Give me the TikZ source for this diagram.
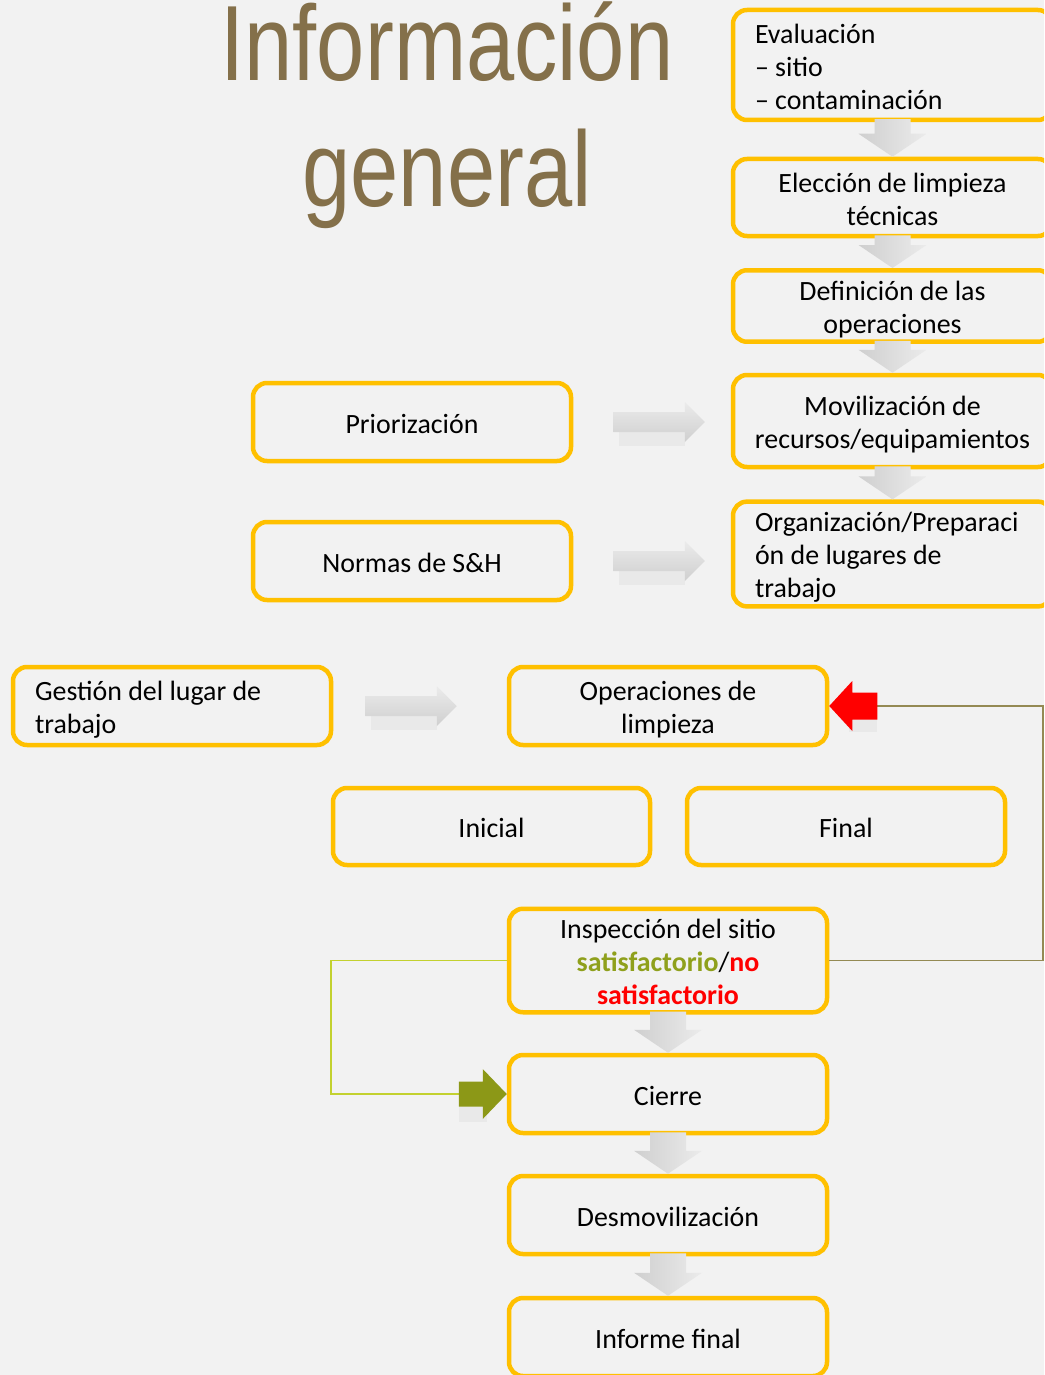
\documentclass[tikz,border=0pt]{standalone}
\usepackage{fontspec}
\setmainfont{Carlito}
\newfontfamily\titlefont{Liberation Sans}[FakeStretch=0.81]
\usetikzlibrary{calc}
\definecolor{bg}{HTML}{F2F2F2}
\definecolor{boxline}{HTML}{FFC000}
\definecolor{titlec}{RGB}{132,112,74}
\definecolor{olivetxt}{HTML}{8FA01C}
\definecolor{greenline}{HTML}{C3D12F}
\definecolor{greenarrow}{HTML}{8C9817}
\definecolor{brownline}{RGB}{148,138,84}
\definecolor{arrowdark}{HTML}{CFCFCF}
\definecolor{arrowlight}{HTML}{EBEBEB}
\tikzset{
  box/.style={draw=boxline, line width=4.5pt, rounded corners=14pt, inner sep=4pt,
    align=center, font=\fontsize{27.9}{33}\selectfont,
    execute at begin node={\rule{0pt}{26pt}},
    execute at end node={\rule[-3.5pt]{0pt}{3.5pt}}},
  multibox/.style={box, text width=#1},
  leftbox/.style={box, align=left, inner xsep=22pt},
  titletext/.style={text=titlec, inner sep=0pt, font=\titlefont\fontsize{107}{107}\selectfont},
  downarr/.style={left color=arrowdark, right color=arrowlight},
  rightarr/.style={top color=arrowlight, bottom color=arrowdark},
  softshadow/.style={fill=black, opacity=0.035},
  link/.style={line width=1.6pt},
}
\newcommand\normalspaces{\spaceskip=0pt\xspaceskip=0pt\relax}
\newcommand\centerspaces{\spaceskip=0pt\xspaceskip=0pt\leftskip=0pt plus 1fil\rightskip=0pt plus 1fil\parfillskip=0pt\relax}
\newcommand\grayDown[2]{%
  \path[downarr] let \p1=($(#1.south)+(0,-3)$), \p2=(#2.north) in
    ({\x1-18pt},{\y1}) -- ({\x1+18pt},{\y1}) -- ({\x1+18pt},{\y2+23pt}) --
    ({\x1+34pt},{\y2+23pt}) -- ({\x1},{\y2}) -- ({\x1-34pt},{\y2+23pt}) --
    ({\x1-18pt},{\y2+23pt}) -- cycle;}
\newcommand\grayRight[4]{%
  \path[softshadow] let \p1=(#1.east), \p2=(#2.west) in
    ({\x1+#3pt+6pt},{\y1-6pt}) -- ({\x2-#4pt-20pt},{\y1-6pt}) -- ({\x2-#4pt-20pt},{\y1-24pt}) --
    ({\x1+#3pt+6pt},{\y1-24pt}) -- cycle;
  \path[rightarr] let \p1=(#1.east), \p2=(#2.west) in
    ({\x1+#3pt},{\y1+10pt}) -- ({\x2-#4pt-20pt},{\y1+10pt}) -- ({\x2-#4pt-20pt},{\y1+20pt}) --
    ({\x2-#4pt},{\y1}) -- ({\x2-#4pt-20pt},{\y1-20pt}) -- ({\x2-#4pt-20pt},{\y1-10pt}) --
    ({\x1+#3pt},{\y1-10pt}) -- cycle;}
\begin{document}
\begin{tikzpicture}[x=1pt,y=-1pt]
\fill[bg] (0,0) rectangle (1044,1375);
\useasboundingbox (0,0) rectangle (1044,1375);
\clip (0,0) rectangle (1044,1375);

% title
\node[titletext, anchor=base] (t1) at (447,81) {Información};
\node[titletext, anchor=base] (t2) at (447,207) {general};

% right column
\node[leftbox, text width=275pt, minimum height=110pt] (eval) at (892.5,65)
  {\normalspaces Evaluación\\– sitio\\– contaminación};
\node[multibox=311pt, minimum height=77pt] (elec) at (892.5,197.5)
  {\centerspaces Elección de limpieza\\técnicas};
\node[multibox=311pt, minimum height=62pt] (defi) at (892.5,306)
  {\centerspaces Definición de las\\operaciones};
\node[multibox=311pt, minimum height=92pt] (movi) at (892.5,421)
  {\centerspaces Movilización de\\recursos/equipamientos};
\node[leftbox, text width=275pt, minimum height=94pt] (orga) at (892.5,554)
  {\normalspaces Organización/Preparaci\\ón de lugares de\\trabajo};

% left boxes
\node[box, minimum width=318pt, minimum height=78pt] (prio) at (412,422) {Priorización};
\node[box, minimum width=318pt, minimum height=78pt] (norm) at (412,561) {Normas de S\&H};
\node[leftbox, text width=274pt, minimum height=78pt] (gest) at (172,706)
  {\normalspaces Gestión del lugar de\\trabajo};
\node[multibox=310pt, minimum height=78pt] (oper) at (668,706)
  {\centerspaces Operaciones de\\limpieza};
\node[box, minimum width=317pt, minimum height=77pt] (inic) at (491.5,826.5) {Inicial};
\node[box, minimum width=318pt, minimum height=77pt] (fina) at (846,826.5) {Final};
\node[multibox=310pt, minimum height=103pt] (insp) at (668,960.5)
  {\centerspaces Inspección del sitio\\\textcolor{olivetxt}{\bfseries satisfactorio}/\textcolor{red}{\bfseries no}\\\textcolor{red}{\bfseries satisfactorio}};
\node[box, minimum width=318pt, minimum height=78pt] (cier) at (668,1094) {Cierre};
\node[box, minimum width=318pt, minimum height=78pt] (desm) at (668,1215) {Desmovilización};
\node[box, minimum width=318pt, minimum height=78pt] (info) at (668,1337) {Informe final};

% gray block arrows
\grayDown{eval}{elec}
\grayDown{elec}{defi}
\grayDown{defi}{movi}
\grayDown{movi}{orga}
\grayDown{insp}{cier}
\grayDown{cier}{desm}
\grayDown{desm}{info}
\grayRight{prio}{movi}{40}{26}
\grayRight{norm}{orga}{40}{26}
\grayRight{gest}{oper}{32}{50}

% feedback loop (red)
\coordinate (bcorner) at (1043,0);
\coordinate (redtail) at ($(oper.east)+(48,0)$);
\draw[brownline, link] (insp.east) -- (insp.east -| bcorner) |- (redtail);
\path[softshadow] let \p1=(oper.east) in
  ({\x1+20pt},{\y1-8pt}) -- ({\x1+48pt},{\y1-8pt}) -- ({\x1+48pt},{\y1-26pt}) -- ({\x1+20pt},{\y1-26pt}) -- cycle;
\path[fill=red] let \p1=(oper.east) in
  ({\x1},{\y1}) -- ({\x1+23pt},{\y1+25pt}) -- ({\x1+23pt},{\y1+13.5pt}) --
  ({\x1+48pt},{\y1+13.5pt}) -- ({\x1+48pt},{\y1-13.5pt}) -- ({\x1+23pt},{\y1-13.5pt}) --
  ({\x1+23pt},{\y1-25pt}) -- cycle;

% satisfactory path (green)
\coordinate (gcorner) at (331,0);
\coordinate (greentail) at ($(cier.west)+(-48,0)$);
\draw[greenline, link] (insp.west) -- (insp.west -| gcorner) |- (greentail);
\path[softshadow] let \p1=(cier.west) in
  ({\x1-48pt},{\y1-10pt}) -- ({\x1-20pt},{\y1-10pt}) -- ({\x1-20pt},{\y1-28pt}) -- ({\x1-48pt},{\y1-28pt}) -- cycle;
\path[fill=greenarrow] let \p1=(cier.west) in
  ({\x1},{\y1}) -- ({\x1-24pt},{\y1+25pt}) -- ({\x1-24pt},{\y1+12.5pt}) --
  ({\x1-48pt},{\y1+12.5pt}) -- ({\x1-48pt},{\y1-12.5pt}) -- ({\x1-24pt},{\y1-12.5pt}) --
  ({\x1-24pt},{\y1-25pt}) -- cycle;
\end{tikzpicture}
\end{document}
